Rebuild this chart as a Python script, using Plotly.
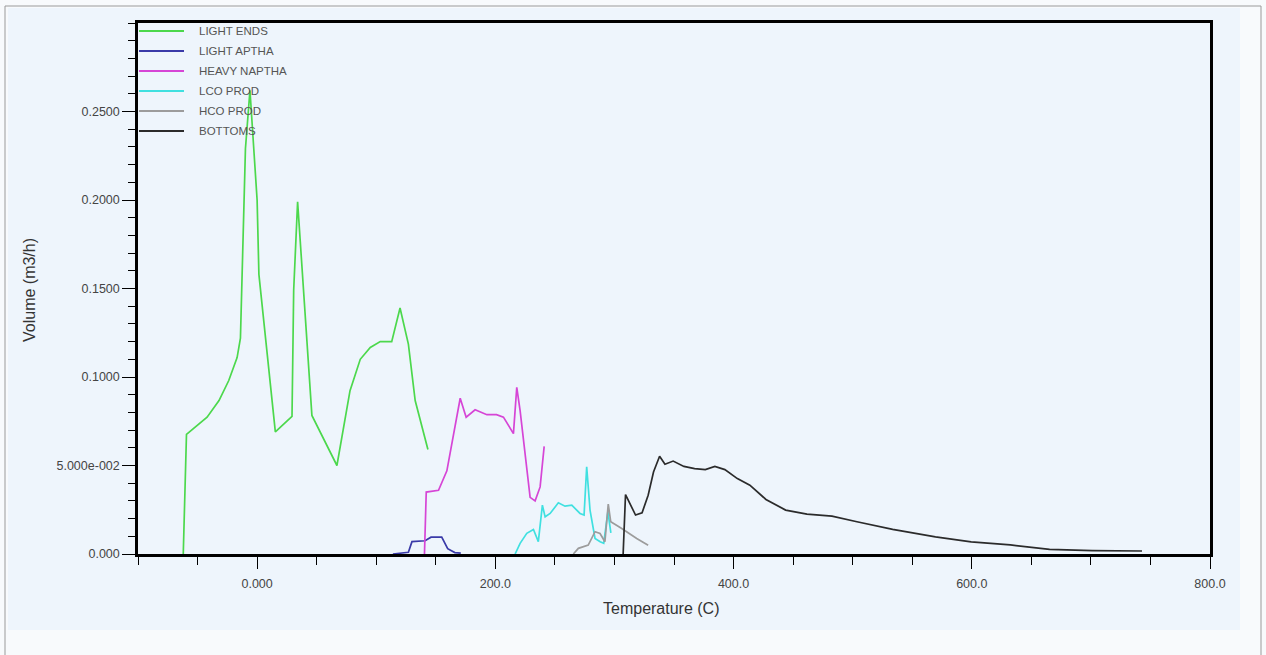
import plotly.graph_objects as go

# ---------------- data ----------------
series_names = ["LIGHT ENDS", "LIGHT APTHA", "HEAVY NAPTHA", "LCO PROD", "HCO PROD", "BOTTOMS"]
series_colors = ["#4CD84C", "#3A3AA8", "#D645D6", "#40E0E0", "#9C9C9C", "#2B2B2B"]

light_ends_x = [-62, -59.3, -42, -32, -23.8, -16.8, -14, -13.2, -9.8, -6, 0, 1.5, 15.3, 29.3,
                30.7, 34, 39, 46, 67, 78, 86.6, 95, 103.4, 113, 120, 127, 132.7, 143.4]
light_ends_y = [0, 0.0676, 0.0773, 0.0867, 0.098, 0.111, 0.122, 0.145, 0.229, 0.262, 0.200, 0.158, 0.069, 0.0777,
                0.149, 0.199, 0.149, 0.0783, 0.050, 0.0923, 0.110, 0.1167, 0.120, 0.120, 0.139, 0.1186, 0.0867, 0.059]

light_aptha_x = [114, 122, 127, 130, 141, 146, 155, 160, 166, 171]
light_aptha_y = [0, 0.0005, 0.001, 0.007, 0.0075, 0.0095, 0.0095, 0.003, 0.0008, 0.0005]

heavy_naptha_x = [140.5, 142, 152.3, 159.3, 170.5, 175.5, 183, 192.9, 201, 206.8, 215.2, 218, 220.8,
                  225, 229.2, 233.4, 237.6, 241]
heavy_naptha_y = [0, 0.035, 0.036, 0.047, 0.088, 0.0773, 0.0815, 0.0787, 0.0787, 0.0773, 0.068, 0.0942, 0.081,
                  0.0548, 0.032, 0.030, 0.0379, 0.0608]

lco_prod_x = [216.6, 220.8, 226.4, 232, 236.1, 239.5, 241.8, 246, 252.9, 258.5, 264.2, 271.1, 274.5,
              276.7, 279.5, 283.7, 288, 291, 294.5, 297]
lco_prod_y = [0, 0.006, 0.0117, 0.0139, 0.007, 0.0276, 0.021, 0.0229, 0.0289, 0.027, 0.0276, 0.0229, 0.022,
              0.0492, 0.0248, 0.0088, 0.0069, 0.006, 0.024, 0.012]

hco_prod_x = [265.5, 269.7, 278, 283.7, 287.9, 292, 294.8, 296.9, 305.8, 311.8, 318.7, 328.3]
hco_prod_y = [0, 0.0032, 0.005, 0.0126, 0.0116, 0.0069, 0.0282, 0.0182, 0.0145, 0.0117, 0.0088, 0.005]

bottoms_x = [307.3, 309.3, 317.7, 323.2, 328.3, 332.8, 337.9, 342.4, 349.3, 358.3, 367.3, 376.3, 384.3,
             392.7, 403.2, 413.7, 427.2, 443.7, 461.6, 482.6, 503.6, 533.6, 569.5, 599.5, 632.4, 665.3,
             701.2, 742.9]
bottoms_y = [0, 0.0336, 0.022, 0.0233, 0.0332, 0.0463, 0.0552, 0.0507, 0.0525, 0.0495, 0.0482, 0.0477, 0.0495,
             0.0477, 0.0426, 0.0389, 0.0308, 0.0248, 0.0225, 0.0214, 0.0182, 0.0139, 0.0097, 0.0069, 0.0051,
             0.0026, 0.0019, 0.0017]

series_x = [light_ends_x, light_aptha_x, heavy_naptha_x, lco_prod_x, hco_prod_x, bottoms_x]
series_y = [light_ends_y, light_aptha_y, heavy_naptha_y, lco_prod_y, hco_prod_y, bottoms_y]

x_tickvals = [0, 200, 400, 600, 800]
x_ticktext = ["0.000", "200.0", "400.0", "600.0", "800.0"]
y_tickvals = [0, 0.05, 0.10, 0.15, 0.20, 0.25]
y_ticktext = ["0.000", "5.000e-002", "0.1000", "0.1500", "0.2000", "0.2500"]
x_title = "Temperature (C)"
y_title = "Volume (m3/h)"

# ---------------- layout geometry ----------------
W, H = 1266, 655
PL, PR, PT, PB = 138, 1210, 23, 554   # plot area in pixels


def fx(px):
    return (px - PL) / (PR - PL)


def fy(py):
    return (PB - py) / (PB - PT)


FONT = "Liberation Sans, Arial, sans-serif"
BG = "#EEF5FC"
TICKFONT = dict(family=FONT, size=12.5, color="#444444")
TITLEFONT = dict(family=FONT, size=16, color="#333333")

fig = go.Figure()
for name, color, xs, ys in zip(series_names, series_colors, series_x, series_y):
    fig.add_trace(go.Scatter(x=xs, y=ys, mode="lines", name=name,
                             line=dict(color=color, width=1.7), showlegend=False))

shapes = [
    # light blue panel
    dict(type="rect", xref="paper", yref="paper", x0=fx(8), x1=fx(1240), y0=fy(630), y1=fy(8),
         fillcolor=BG, line=dict(width=0), layer="below"),
    # outer frame
    dict(type="rect", xref="paper", yref="paper", x0=fx(5), x1=fx(1261), y0=fy(660), y1=fy(6),
         fillcolor="rgba(0,0,0,0)", line=dict(color="#9a9a9a", width=1), layer="below"),
]
annotations = []
for i, (name, color) in enumerate(zip(series_names, series_colors)):
    yy = 31 + 20 * i
    shapes.append(dict(type="line", xref="paper", yref="paper", x0=fx(139), x1=fx(184),
                       y0=fy(yy), y1=fy(yy), line=dict(color=color, width=2)))
    annotations.append(dict(xref="paper", yref="paper", x=fx(197), y=fy(yy), text=name,
                            showarrow=False, xanchor="left", yanchor="middle",
                            font=dict(family=FONT, size=11.5, color="#555555")))

# axis titles
annotations.append(dict(xref="paper", yref="paper", x=fx(661), y=fy(608), text=x_title,
                        showarrow=False, xanchor="center", yanchor="middle", font=TITLEFONT))
annotations.append(dict(xref="paper", yref="paper", x=fx(30), y=fy(290), text=y_title, textangle=-90,
                        showarrow=False, xanchor="center", yanchor="middle", font=TITLEFONT))

fig.update_layout(
    width=W, height=H,
    margin=dict(l=PL, r=W - PR, t=PT, b=H - PB),
    paper_bgcolor="#F8FAFC",
    plot_bgcolor=BG,
    shapes=shapes,
    annotations=annotations,
    showlegend=False,
    font=dict(family=FONT, size=12, color="#444444"),
)

fig.update_xaxes(
    range=[-100, 800], showgrid=False, zeroline=False,
    showline=True, linecolor="black", linewidth=2.5, mirror=True,
    tickmode="array", tickvals=x_tickvals, ticktext=x_ticktext,
    ticks="outside", ticklen=12, tickwidth=1.2, tickcolor="black",
    tickfont=TICKFONT, ticklabelstandoff=4,
    minor=dict(dtick=50, tick0=0, ticks="outside", ticklen=8, tickwidth=1.2, tickcolor="black", showgrid=False),
)
fig.update_yaxes(
    range=[0, 0.30], showgrid=False, zeroline=False,
    showline=True, linecolor="black", linewidth=2.5, mirror=True,
    tickmode="array", tickvals=y_tickvals, ticktext=y_ticktext,
    ticks="outside", ticklen=13, tickwidth=1.2, tickcolor="black",
    tickfont=TICKFONT,
    minor=dict(dtick=0.01, tick0=0, ticks="outside", ticklen=7, tickwidth=1.2, tickcolor="black", showgrid=False),
)

fig.write_html("out.html")
